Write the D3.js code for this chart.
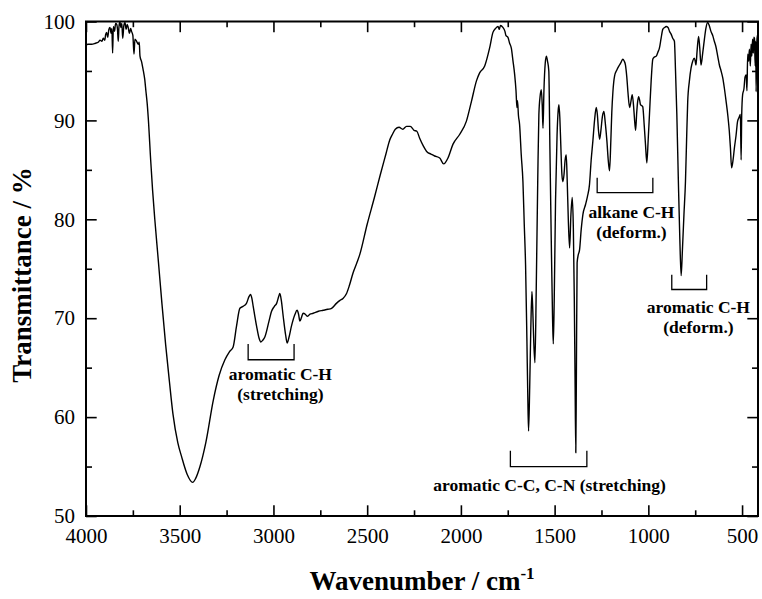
<!DOCTYPE html>
<html>
<head>
    <meta charset="utf-8">
    <title>IR spektar</title>
    <script src="https://d3js.org/d3.v7.min.js"></script>
    <style>
        body { margin: 0; background: #fff; }
        text { font-family: "Liberation Serif", "Times New Roman", serif; }
    </style>
</head>
<body>
    <script>
        // spektar ocitan sa slike (valni broj u cm-1, transmitancija u %)
        var wavenumber = [4000, 3990, 3970, 3950, 3935, 3925, 3915, 3908, 3900, 3895, 3890, 3884, 3878, 3872, 3866, 3862, 3858, 3854, 3848, 3842,
            3836, 3832, 3828, 3824, 3819, 3814, 3809, 3804, 3798, 3792, 3786, 3780, 3775, 3768, 3762, 3757, 3750, 3744, 3739, 3730,
            3721, 3716, 3712, 3703, 3694, 3687, 3680, 3674, 3668, 3655, 3645, 3633, 3615, 3595, 3575, 3555, 3536, 3510, 3490, 3460,
            3431, 3415, 3392, 3360, 3321, 3290, 3259, 3235, 3215, 3197, 3179, 3162, 3144, 3130, 3122, 3115, 3108, 3090, 3077, 3067,
            3056, 3046, 3025, 3010, 2995, 2983, 2972, 2966, 2958, 2948, 2935, 2927, 2918, 2904, 2885, 2874, 2866, 2859, 2850, 2842,
            2830, 2820, 2805, 2788, 2760, 2735, 2710, 2690, 2664, 2645, 2629, 2610, 2595, 2575, 2555, 2540, 2500, 2460, 2430, 2400,
            2380, 2365, 2350, 2330, 2310, 2290, 2270, 2250, 2235, 2220, 2200, 2180, 2160, 2140, 2113, 2092, 2069, 2042, 2006, 1971,
            1944, 1917, 1900, 1873, 1847, 1829, 1815, 1802, 1795, 1789, 1776, 1765, 1760, 1749, 1740, 1731, 1722, 1713, 1706, 1701,
            1698, 1693, 1687, 1678, 1669, 1662, 1655, 1648, 1643, 1639, 1633, 1627, 1621, 1616, 1611, 1605, 1598, 1590, 1584, 1577,
            1571, 1566, 1562, 1557, 1550, 1544, 1538, 1531, 1525, 1518, 1511, 1507, 1502, 1495, 1487, 1481, 1477, 1472, 1467, 1461,
            1456, 1450, 1444, 1438, 1433, 1427, 1420, 1413, 1406, 1400, 1395, 1391, 1387, 1384, 1380, 1374, 1367, 1358, 1349, 1335,
            1325, 1314, 1305, 1296, 1287, 1278, 1272, 1266, 1260, 1253, 1245, 1237, 1230, 1221, 1214, 1207, 1200, 1195, 1189, 1180,
            1168, 1154, 1145, 1136, 1129, 1122, 1115, 1109, 1100, 1093, 1086, 1079, 1074, 1068, 1062, 1057, 1052, 1046, 1042, 1036,
            1030, 1022, 1015, 1008, 1001, 994, 985, 976, 968, 958, 949, 941, 932, 923, 913, 905, 895, 887, 878, 870,
            861, 855, 848, 840, 832, 825, 818, 810, 802, 796, 790, 781, 772, 763, 755, 750, 746, 740, 732, 726,
            719, 710, 701, 693, 684, 675, 666, 657, 648, 640, 630, 621, 612, 603, 594, 585, 576, 568, 562, 556,
            548, 541, 532, 524, 516, 509, 505, 502, 497, 490, 484, 478, 474, 470, 465, 461, 456, 452, 448, 444,
            440, 437, 434, 430, 427, 425, 422, 419, 416];
        var transmittance = [97.6, 97.7, 97.7, 97.8, 97.9, 98.1, 98.0, 98.3, 98.1, 98.7, 98.9, 98.4, 99.2, 99.4, 98.8, 99.3, 96.8, 99.5, 99.0, 99.8,
            99.7, 99.2, 98.0, 99.5, 100, 99.4, 99.8, 98.3, 99.6, 99.9, 99.2, 99.7, 99.4, 98.8, 99.3, 99.0, 98.6, 96.7, 98.2, 98.0,
            97.7, 97.9, 96.5, 95.9, 95.0, 94.2, 92.9, 91.8, 90.3, 86.0, 83.0, 80.0, 76.0, 71.5, 67.3, 63.6, 60.3, 57.4, 56.0, 54.2,
            53.4, 53.8, 55.0, 57.5, 61.7, 64.2, 65.8, 66.6, 67.1, 69.2, 71.0, 71.2, 71.5, 72.2, 72.4, 72.0, 71.2, 69.2, 68.0, 67.6,
            67.8, 68.1, 69.6, 70.7, 71.2, 71.5, 72.2, 72.5, 71.8, 70.2, 68.3, 67.5, 68.0, 69.2, 70.4, 70.8, 70.4, 69.7, 70.1, 70.5,
            70.4, 70.2, 70.4, 70.5, 70.7, 70.8, 70.9, 71.0, 71.5, 71.8, 72.0, 72.5, 73.3, 74.6, 75.6, 76.4, 79.5, 82.3, 84.5, 86.6,
            88.0, 88.6, 89.1, 89.3, 89.1, 89.4, 89.4, 89.0, 88.9, 88.2, 87.4, 86.8, 86.6, 86.4, 86.2, 85.6, 86.2, 87.6, 88.6, 89.9,
            91.9, 94.0, 94.8, 95.5, 97.3, 98.9, 99.3, 99.5, 99.2, 99.6, 99.4, 99.0, 98.6, 98.4, 97.8, 97.3, 96.0, 94.6, 93.0, 91.3,
            92.0, 90.5, 89.6, 86.5, 83.8, 79.5, 75.4, 68.0, 62.0, 58.6, 63.0, 69.0, 72.7, 70.5, 67.5, 65.5, 73.0, 84.0, 90.6, 92.5,
            93.1, 91.5, 89.2, 93.0, 95.8, 96.5, 96.0, 95.0, 87.0, 78.0, 70.0, 67.4, 72.0, 82.0, 88.5, 91.0, 91.6, 90.2, 87.5, 84.5,
            83.8, 84.5, 86.0, 86.5, 84.0, 80.0, 77.1, 80.5, 82.2, 79.0, 72.0, 64.0, 56.4, 64.0, 75.6, 76.4, 76.9, 79.0, 80.5, 81.5,
            82.3, 83.5, 86.0, 87.9, 90.0, 91.3, 90.6, 89.0, 88.1, 89.0, 90.4, 90.9, 89.8, 87.9, 86.0, 84.9, 88.0, 90.8, 92.9, 94.5,
            95.1, 95.6, 95.9, 96.2, 96.0, 95.6, 94.4, 92.9, 91.3, 91.9, 92.6, 91.5, 90.2, 89.0, 90.8, 91.9, 92.4, 92.0, 91.6, 91.5,
            91.4, 89.5, 87.5, 85.7, 88.0, 90.6, 94.0, 96.2, 96.4, 96.5, 96.9, 97.3, 98.3, 99.2, 99.4, 99.5, 99.4, 99.0, 98.7, 98.3,
            98.0, 95.0, 90.6, 84.0, 78.0, 74.3, 77.0, 80.5, 83.8, 88.0, 91.9, 94.0, 95.3, 96.0, 96.3, 96.0, 95.6, 97.0, 98.5, 97.4,
            95.6, 96.8, 98.2, 99.3, 99.9, 99.6, 99.0, 98.6, 98.0, 97.5, 96.5, 95.6, 95.0, 94.3, 93.2, 91.9, 90.5, 88.9, 87.2, 85.2,
            86.0, 87.2, 88.5, 89.9, 90.3, 90.6, 86.0, 90.5, 92.6, 93.2, 94.4, 94.6, 93.0, 96.7, 96.0, 97.2, 95.5, 97.7, 96.5, 98.2,
            96.8, 98.4, 98.3, 95.5, 98.0, 92.9, 97.5, 98.6, 97.0];

        var xMajor = [4000, 3500, 3000, 2500, 2000, 1500, 1000, 500];
        var xMinor = [3750, 3250, 2750, 2250, 1750, 1250, 750];
        var yMajor = [50, 60, 70, 80, 90, 100];
        var yMinor = [55, 65, 75, 85, 95];

        // oznake vrpci: [lijevo, desno] u cm-1, [vrh, dno] zagrade u %
        var bandNames = ["aromatic C-H (stretching)", "aromatic C-C, C-N (stretching)", "alkane C-H (deform.)", "aromatic C-H (deform.)"];
        var bandFrom = [3135, 1736, 1273, 875];
        var bandTo = [2890, 1328, 976, 689];
        var bandTop = [67.4, 56.6, 84.2, 74.4];
        var bandBottom = [65.8, 55.0, 82.7, 72.9];
        var labelLines = [["aromatic C-H", "(stretching)"], ["aromatic C-C, C-N (stretching)"], ["alkane C-H", "(deform.)"], ["aromatic C-H", "(deform.)"]];
        var labelWn = [2963, 1527, 1090, 733];
        var labelT = [63.8, 52.5, 80.1, 70.5];

        var width = 762;
        var height = 599;
        var padL = 86, padR = 758, padT = 21.5, padB = 516;
        var serif = '"Liberation Serif", "Times New Roman", serif';

        var x = d3.scaleLinear().domain([4000, 415]).range([padL, padR]);
        var y = d3.scaleLinear().domain([50, 100]).range([padB, padT]);

        var svg = d3.select("body").append("svg")
            .attr("width", width)
            .attr("height", height);

        svg.append("defs").append("clipPath").attr("id", "clip")
            .append("rect")
            .attr("x", padL).attr("y", padT)
            .attr("width", padR - padL).attr("height", padB - padT);

        function styleAxis(g) {
            g.attr("font-family", serif);
            g.select(".domain").remove();
            g.selectAll(".tick line").attr("stroke", "#000").attr("stroke-width", 1.6);
            g.selectAll("text").attr("fill", "#000").style("font-size", "21px").style("font-family", serif);
        }

        // donja os
        svg.append("g").attr("transform", "translate(0," + padB + ")")
            .call(d3.axisBottom(x).tickValues(xMajor).tickSize(-10.7).tickPadding(12.4).tickFormat(d3.format("d")))
            .call(styleAxis);
        svg.append("g").attr("transform", "translate(0," + padB + ")")
            .call(d3.axisBottom(x).tickValues(xMinor).tickSize(-5.7).tickFormat(""))
            .call(styleAxis);
        // gornja os
        svg.append("g").attr("transform", "translate(0," + padT + ")")
            .call(d3.axisTop(x).tickValues(xMajor).tickSize(-10.7).tickFormat(""))
            .call(styleAxis);
        svg.append("g").attr("transform", "translate(0," + padT + ")")
            .call(d3.axisTop(x).tickValues(xMinor).tickSize(-5.7).tickFormat(""))
            .call(styleAxis);
        // lijeva os
        svg.append("g").attr("transform", "translate(" + padL + ",0)")
            .call(d3.axisLeft(y).tickValues(yMajor).tickSize(-10.7).tickPadding(11))
            .call(styleAxis);
        svg.append("g").attr("transform", "translate(" + padL + ",0)")
            .call(d3.axisLeft(y).tickValues(yMinor).tickSize(-6).tickFormat(""))
            .call(styleAxis);
        // desna os
        svg.append("g").attr("transform", "translate(" + padR + ",0)")
            .call(d3.axisRight(y).tickValues(yMajor).tickSize(-10.7).tickFormat(""))
            .call(styleAxis);
        svg.append("g").attr("transform", "translate(" + padR + ",0)")
            .call(d3.axisRight(y).tickValues(yMinor).tickSize(-6).tickFormat(""))
            .call(styleAxis);

        svg.append("rect")
            .attr("x", padL).attr("y", padT)
            .attr("width", padR - padL).attr("height", padB - padT)
            .attr("fill", "none")
            .attr("stroke", "#000")
            .attr("stroke-width", 2);

        var line = d3.line()
            .x(function(d, i) { return x(wavenumber[i]); })
            .y(function(d, i) { return y(transmittance[i]); })
            .curve(d3.curveMonotoneX);

        svg.append("path")
            .datum(wavenumber)
            .attr("clip-path", "url(#clip)")
            .attr("d", line)
            .attr("fill", "none")
            .attr("stroke", "#000")
            .attr("stroke-width", 1.4)
            .attr("stroke-linejoin", "round");

        // zagrade
        svg.selectAll("path.bracket")
            .data(bandNames)
            .enter()
            .append("path")
            .attr("class", "bracket")
            .attr("d", function(d, i) {
                return "M" + x(bandFrom[i]) + "," + y(bandTop[i]) +
                    "V" + y(bandBottom[i]) +
                    "H" + x(bandTo[i]) +
                    "V" + y(bandTop[i]);
            })
            .attr("fill", "none")
            .attr("stroke", "#000")
            .attr("stroke-width", 1.3);

        bandNames.forEach(function(name, i) {
            var t = svg.append("text")
                .attr("x", x(labelWn[i]))
                .attr("y", y(labelT[i]))
                .attr("text-anchor", "middle")
                .style("font-size", "17.5px")
                .style("font-weight", "bold");
            labelLines[i].forEach(function(s, j) {
                t.append("tspan")
                    .attr("x", x(labelWn[i]))
                    .attr("dy", j === 0 ? 0 : 20)
                    .text(s);
            });
        });

        // naslovi osi
        var xt = svg.append("text")
            .attr("x", (padL + padR) / 2)
            .attr("y", 590)
            .attr("text-anchor", "middle")
            .style("font-size", "27px")
            .style("font-weight", "bold");
        xt.append("tspan").text("Wavenumber / cm");
        xt.append("tspan").attr("dy", -11).style("font-size", "17px").text("-1");

        svg.append("text")
            .attr("transform", "translate(31,275)rotate(-90)")
            .attr("text-anchor", "middle")
            .style("font-size", "27px")
            .style("font-weight", "bold")
            .text("Transmittance / %");
    </script>
</body>
</html>
